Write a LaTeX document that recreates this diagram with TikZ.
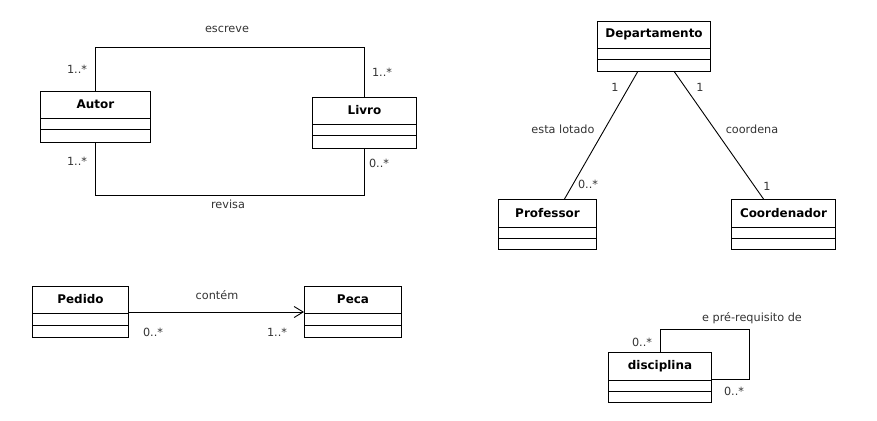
\documentclass[tikz,border=0pt]{standalone}
\usepackage{fontspec}
\setmainfont{DejaVu Sans}
\usetikzlibrary{arrows.meta,calc}
\newcommand\umlclass[8]{%
  \node[cls, minimum width=#5bp, minimum height=#6bp] (#1) at (#3,#4) {};
  \node[ttl] (#1-t) at ($(#1.north)+(0,#7/2)$) {#2};
  \draw[boxline] ($(#1.north west)+(0,#7)$) -- ($(#1.north east)+(0,#7)$);
  \draw[boxline] ($(#1.north west)+(0,#8)$) -- ($(#1.north east)+(0,#8)$);
}
\begin{document}
\begin{tikzpicture}[x=1bp,y=-1bp,
  cls/.style={draw, line width=1bp, inner sep=0pt, anchor=north west},
  boxline/.style={line width=1bp},
  ttl/.style={font=\fontsize{12}{13}\selectfont\bfseries, inner sep=0pt},
  lbl/.style={font=\fontsize{11.3}{12}\selectfont, inner sep=0pt, text=black!80},
  con/.style={line width=0.9bp}]
\useasboundingbox[fill=white] (0,0) rectangle (877,420);

\umlclass{autor}{Autor}{40}{91}{110}{51}{27}{38}
\umlclass{livro}{Livro}{312}{97}{104}{51}{27}{38}
\umlclass{dep}{Departamento}{597}{21}{113}{50}{27}{38}
\umlclass{prof}{Professor}{498}{199}{98}{50}{28}{39}
\umlclass{coord}{Coordenador}{731}{199}{104}{50}{28}{39}
\umlclass{pedido}{Pedido}{32}{286}{96}{51}{27}{39}
\umlclass{peca}{Peca}{304}{286}{97}{51}{27}{39}
\umlclass{disc}{disciplina}{608}{352}{103}{50}{28}{39}

% Autor - Livro
\draw[con] (autor.north) -- ++(0,-44) -| (livro.north);
\draw[con] (autor.south) -- ++(0,52) -| (livro.south);
\node[lbl] (l-escreve) at (227,29) {escreve};
\node[lbl] (l-revisa) at (228,204) {revisa};
\node[lbl] (l-a1) at (77,69) {1..*};
\node[lbl] (l-l1) at (382,72) {1..*};
\node[lbl] (l-a2) at (77,161) {1..*};
\node[lbl] (l-l2) at (379,163) {0..*};

% Departamento
\draw[con] ($(dep.south)+(-16.5,0)$) -- ($(prof.north)+(17,0)$);
\draw[con] ($(dep.south)+(20.5,0)$) -- ($(coord.north)+(-20,0)$);
\node[lbl] (l-d1) at (615,87) {1};
\node[lbl] (l-esta) at (563,129) {esta lotado};
\node[lbl] (l-p1) at (588,184) {0..*};
\node[lbl] (l-d2) at (700,87) {1};
\node[lbl] (l-coordena) at (752,129) {coordena};
\node[lbl] (l-c1) at (767,186) {1};

% Pedido - Peca
\draw[con, -{Straight Barb[length=9bp,width=11bp,line width=0.9bp]}] ($(pedido.north east)+(0,26)$) -- ($(peca.north west)+(0,26)$);
\node[lbl] (l-contem) at (217,295) {contém};
\node[lbl] (l-pe1) at (153,332) {0..*};
\node[lbl] (l-pe2) at (277,332) {1..*};

% disciplina self loop
\draw[con] ($(disc.north west)+(52,0)$) -- ++(0,-23) -| ($(disc.north east)+(37,27)$) -- ($(disc.north east)+(0,27)$);
\node[lbl] (l-pre) at (752,318) {e pré-requisito de};
\node[lbl] (l-di1) at (642,342) {0..*};
\node[lbl] (l-di2) at (734,391) {0..*};
\end{tikzpicture}
\end{document}
